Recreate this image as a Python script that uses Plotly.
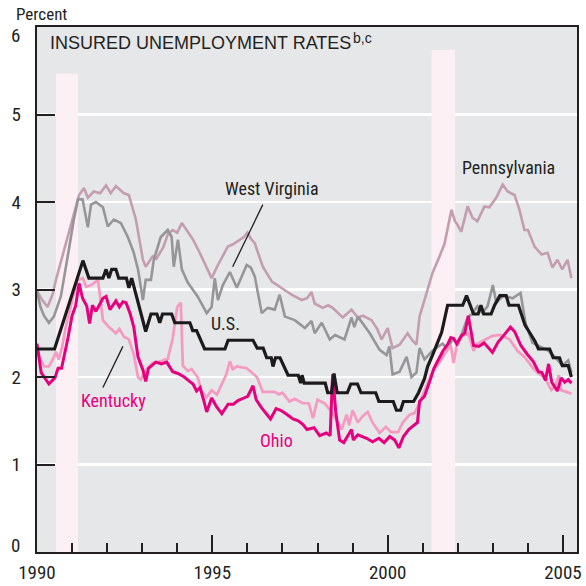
import plotly.graph_objects as go

# ---------------- data (decimal years, percent) ----------------
pa_x = [1990.0, 1990.15, 1990.3, 1990.45, 1990.54, 1990.7, 1990.9, 1991.05, 1991.2, 1991.34, 1991.45, 1991.62, 1991.8, 1991.97,
        1992.1, 1992.25, 1992.4, 1992.48, 1992.62, 1992.82, 1993.02, 1993.1, 1993.3, 1993.4, 1993.6, 1993.73, 1993.87, 1994.0,
        1994.13, 1994.3, 1994.45, 1994.64, 1994.84, 1994.98, 1995.16, 1995.3, 1995.44, 1995.6, 1995.78, 1995.9, 1996.0, 1996.1,
        1996.21, 1996.44, 1996.7, 1996.84, 1996.98, 1997.26, 1997.55, 1997.7, 1997.83, 1997.92, 1998.15, 1998.3, 1998.43, 1998.6,
        1998.72, 1998.97, 1999.15, 1999.3, 1999.54, 1999.7, 1999.83, 2000.0, 2000.14, 2000.34, 2000.57, 2000.7, 2000.82, 2000.91,
        2001.11, 2001.28, 2001.45, 2001.62, 2001.82, 2001.92, 2001.99, 2002.1, 2002.28, 2002.42, 2002.56, 2002.76, 2002.9, 2003.1,
        2003.28, 2003.42, 2003.62, 2003.76, 2003.9, 2004.0, 2004.19, 2004.39, 2004.56, 2004.7, 2004.84, 2004.98, 2005.13, 2005.24]
pa_y = [2.98, 2.88, 2.80, 2.95, 3.11, 3.35, 3.65, 3.88, 4.08, 4.16, 4.05, 4.12, 4.10, 4.19,
        4.10, 4.18, 4.12, 4.10, 4.08, 3.80, 3.34, 3.26, 3.38, 3.35, 3.48, 3.63, 3.68, 3.65,
        3.76, 3.66, 3.57, 3.42, 3.25, 3.13, 3.28, 3.38, 3.49, 3.52, 3.57, 3.60, 3.65, 3.58,
        3.53, 3.26, 3.09, 3.05, 3.02, 2.94, 2.88, 2.90, 2.97, 2.84, 2.79, 2.82, 2.79, 2.72,
        2.68, 2.77, 2.68, 2.70, 2.65, 2.55, 2.43, 2.56, 2.33, 2.37, 2.50, 2.42, 2.37, 2.69,
        2.96, 3.19, 3.35, 3.52, 3.91, 3.78, 3.74, 3.66, 3.95, 3.82, 3.78, 3.95, 3.94, 4.05,
        4.20, 4.12, 4.08, 3.91, 3.68, 3.68, 3.49, 3.40, 3.42, 3.25, 3.34, 3.23, 3.34, 3.13]

wv_x = [1990.0, 1990.1, 1990.2, 1990.34, 1990.48, 1990.68, 1990.91, 1991.05, 1991.17, 1991.3, 1991.45, 1991.54, 1991.68, 1991.88,
        1992.02, 1992.19, 1992.39, 1992.59, 1992.76, 1992.88, 1993.02, 1993.1, 1993.25, 1993.33, 1993.53, 1993.73, 1993.84, 1993.9,
        1994.02, 1994.13, 1994.3, 1994.58, 1994.84, 1994.98, 1995.07, 1995.16, 1995.3, 1995.5, 1995.7, 1995.98, 1996.1, 1996.21,
        1996.41, 1996.58, 1996.78, 1996.92, 1997.07, 1997.35, 1997.64, 1997.83, 1997.92, 1998.12, 1998.35, 1998.5, 1998.77, 1998.97,
        1999.05, 1999.15, 1999.49, 1999.77, 1999.97, 2000.05, 2000.14, 2000.34, 2000.54, 2000.68, 2000.82, 2000.91, 2001.05, 2001.28,
        2001.45, 2001.57, 2001.7, 2001.88, 2002.0, 2002.28, 2002.4, 2002.56, 2002.7, 2002.85, 2003.0, 2003.1, 2003.3, 2003.56,
        2003.79, 2003.93, 2004.13, 2004.35, 2004.59, 2004.79, 2004.98, 2005.15, 2005.24]
wv_y = [2.98, 2.80, 2.70, 2.62, 2.69, 2.92, 3.46, 3.80, 4.03, 4.03, 3.71, 3.97, 4.00, 3.94,
        3.72, 3.80, 3.76, 3.60, 3.42, 3.23, 2.88, 3.11, 3.11, 3.34, 3.60, 3.68, 3.60, 3.26,
        3.57, 3.23, 3.08, 2.92, 2.73, 2.80, 3.13, 2.88, 3.05, 3.20, 3.02, 3.28, 3.25, 3.15,
        2.73, 2.79, 2.77, 2.94, 2.69, 2.65, 2.56, 2.64, 2.50, 2.62, 2.43, 2.48, 2.43, 2.68,
        2.57, 2.69, 2.50, 2.31, 2.25, 2.35, 2.03, 2.06, 2.23, 2.00, 2.05, 2.33, 2.20, 2.30,
        2.35, 2.38, 2.32, 2.45, 2.36, 2.68, 2.72, 2.81, 2.73, 2.81, 3.05, 2.85, 2.93, 2.90,
        2.96, 2.62, 2.39, 2.35, 2.30, 2.22, 2.13, 2.19, 2.05]

us_x = [1990.0, 1990.5, 1991.31, 1991.48, 1991.88, 1991.97, 1992.05, 1992.13, 1992.25, 1992.33, 1992.55, 1992.62, 1992.7,
        1993.1, 1993.25, 1993.42, 1993.5, 1993.58, 1993.84, 1993.93, 1994.36, 1994.44, 1994.55, 1994.78, 1995.36, 1995.45,
        1996.16, 1996.28, 1996.45, 1996.55, 1996.68, 1996.73, 1996.8, 1996.93, 1997.16, 1997.45, 1997.52, 1997.56, 1997.62,
        1998.22, 1998.29, 1998.4, 1998.47, 1998.56, 1998.85, 1998.95, 1999.14, 1999.24, 1999.66, 1999.75, 2000.16, 2000.25,
        2000.37, 2000.45, 2000.74, 2000.88, 2001.05, 2001.14, 2001.28, 2001.45, 2001.54, 2001.71, 2002.14, 2002.25, 2002.35,
        2002.45, 2002.58, 2002.66, 2002.74, 2002.95, 2003.05, 2003.2, 2003.38, 2003.46, 2003.73, 2003.92, 2004.0, 2004.2,
        2004.3, 2004.62, 2004.72, 2004.9, 2004.98, 2005.15, 2005.24]
us_y = [2.32, 2.32, 3.33, 3.13, 3.13, 3.23, 3.13, 3.23, 3.23, 3.13, 3.13, 3.02, 3.13,
        2.52, 2.72, 2.72, 2.62, 2.72, 2.72, 2.62, 2.62, 2.53, 2.53, 2.32, 2.32, 2.42,
        2.42, 2.33, 2.33, 2.22, 2.22, 2.12, 2.22, 2.22, 2.02, 2.02, 1.93, 2.02, 1.93,
        1.93, 1.82, 1.82, 2.04, 1.82, 1.82, 1.92, 1.92, 1.82, 1.82, 1.72, 1.72, 1.62,
        1.62, 1.72, 1.72, 1.82, 1.98, 2.12, 2.25, 2.43, 2.51, 2.82, 2.82, 2.93, 2.82,
        2.72, 2.72, 2.82, 2.72, 2.72, 2.82, 2.93, 2.93, 2.82, 2.82, 2.59, 2.54, 2.41,
        2.32, 2.32, 2.22, 2.22, 2.13, 2.13, 2.00]

ky_x = [1990.0, 1990.1, 1990.2, 1990.34, 1990.45, 1990.54, 1990.62, 1990.72, 1990.82, 1991.03, 1991.17, 1991.31, 1991.4, 1991.55,
        1991.74, 1991.8, 1991.88, 1992.05, 1992.15, 1992.25, 1992.35, 1992.48, 1992.62, 1992.76, 1992.88, 1992.96, 1993.1, 1993.3,
        1993.53, 1993.73, 1993.87, 1994.0, 1994.1, 1994.16, 1994.3, 1994.41, 1994.58, 1994.7, 1994.84, 1994.98, 1995.13, 1995.27,
        1995.4, 1995.5, 1995.58, 1995.7, 1995.98, 1996.1, 1996.27, 1996.44, 1996.78, 1996.9, 1997.0, 1997.2, 1997.35, 1997.58,
        1997.75, 1997.87, 1998.0, 1998.2, 1998.4, 1998.54, 1998.69, 1998.83, 1998.9, 1999.0, 1999.15, 1999.28, 1999.43, 1999.57,
        1999.77, 1999.95, 2000.1, 2000.3, 2000.43, 2000.63, 2000.77, 2000.91, 2001.05, 2001.14, 2001.28, 2001.48, 2001.65, 2001.8,
        2001.88, 2001.97, 2002.12, 2002.3, 2002.45, 2002.56, 2002.75, 2002.99, 2003.2, 2003.48, 2003.7, 2003.9, 2004.15, 2004.3,
        2004.47, 2004.67, 2004.78, 2004.88, 2004.95, 2005.1, 2005.24]
ky_y = [2.32, 2.20, 2.12, 2.12, 2.20, 2.29, 2.20, 2.35, 2.57, 2.92, 3.11, 3.13, 3.03, 3.05,
        3.11, 2.92, 2.65, 2.57, 2.54, 2.50, 2.55, 2.46, 2.43, 2.26, 2.00, 1.97, 2.08, 2.16,
        2.18, 2.21, 2.44, 2.80, 2.85, 2.13, 2.07, 2.09, 2.00, 1.83, 1.77, 1.85, 1.80, 1.93,
        2.03, 2.18, 2.09, 2.12, 2.10, 2.06, 2.00, 1.83, 1.83, 1.80, 1.82, 1.72, 1.75, 1.70,
        1.70, 1.53, 1.74, 1.70, 1.60, 1.51, 1.40, 1.57, 1.45, 1.62, 1.48, 1.55, 1.60, 1.48,
        1.36, 1.43, 1.37, 1.37, 1.48, 1.57, 1.59, 1.70, 1.85, 1.93, 2.06, 2.17, 2.28, 2.36,
        2.16, 2.36, 2.47, 2.50, 2.30, 2.38, 2.42, 2.47, 2.48, 2.43, 2.30, 2.23, 2.10, 2.04,
        2.00, 1.85, 1.90, 2.02, 1.85, 1.83, 1.81]

oh_x = [1990.0, 1990.12, 1990.34, 1990.51, 1990.6, 1990.7, 1990.88, 1991.0, 1991.1, 1991.2, 1991.3, 1991.42, 1991.5, 1991.58,
        1991.68, 1991.8, 1991.88, 1991.97, 1992.08, 1992.25, 1992.35, 1992.45, 1992.54, 1992.66, 1992.76, 1992.88, 1993.02, 1993.1,
        1993.18, 1993.39, 1993.55, 1993.7, 1993.87, 1994.02, 1994.2, 1994.35, 1994.45, 1994.55, 1994.65, 1994.75, 1994.84, 1994.98,
        1995.12, 1995.27, 1995.45, 1995.6, 1995.73, 1995.9, 1996.01, 1996.16, 1996.25, 1996.4, 1996.55, 1996.66, 1996.82, 1996.95,
        1997.1, 1997.3, 1997.45, 1997.58, 1997.7, 1997.9, 1998.06, 1998.25, 1998.36, 1998.43, 1998.52, 1998.63, 1998.75, 1998.85,
        1998.97, 1999.02, 1999.15, 1999.4, 1999.57, 1999.75, 1999.9, 2000.06, 2000.2, 2000.32, 2000.45, 2000.6, 2000.75, 2000.85,
        2000.91, 2001.05, 2001.2, 2001.32, 2001.45, 2001.58, 2001.72, 2001.8, 2001.88, 2001.97, 2002.1, 2002.2, 2002.3, 2002.45,
        2002.6, 2002.75, 2002.99, 2003.15, 2003.3, 2003.5, 2003.62, 2003.8, 2003.98, 2004.15, 2004.3, 2004.4, 2004.5, 2004.59,
        2004.68, 2004.84, 2004.95, 2005.05, 2005.15, 2005.24]
oh_y = [2.38, 2.05, 1.92, 1.99, 2.10, 2.10, 2.44, 2.70, 2.81, 3.07, 2.90, 2.81, 2.61, 2.82,
        2.75, 2.85, 2.90, 2.92, 2.77, 2.87, 2.80, 2.86, 2.85, 2.72, 2.57, 2.23, 2.08, 1.95,
        2.10, 2.17, 2.15, 2.17, 2.06, 2.04, 2.00, 1.95, 1.92, 1.84, 1.88, 1.74, 1.60, 1.76,
        1.66, 1.58, 1.69, 1.69, 1.73, 1.76, 1.78, 1.90, 1.74, 1.65, 1.57, 1.52, 1.64, 1.62,
        1.58, 1.52, 1.50, 1.46, 1.40, 1.42, 1.33, 1.36, 1.33, 2.03, 1.60, 1.28, 1.25, 1.32,
        1.40, 1.28, 1.34, 1.30, 1.26, 1.30, 1.25, 1.32, 1.28, 1.19, 1.32, 1.40, 1.45, 1.48,
        1.72, 1.78, 1.95, 2.10, 2.20, 2.30, 2.38, 2.45, 2.44, 2.38, 2.47, 2.50, 2.70, 2.36,
        2.35, 2.39, 2.28, 2.40, 2.47, 2.57, 2.52, 2.36, 2.26, 2.18, 2.06, 2.05, 1.96, 2.15,
        1.94, 1.84, 1.99, 1.94, 1.97, 1.93]

recessions = [(1990.54, 1991.17, 5.47), (2001.25, 2001.92, 5.74)]
year_ticks = [1990, 1995, 2000, 2005]
pct_ticks = [0, 1, 2, 3, 4, 5, 6]
pct_inner = [1, 2, 3, 4, 5]          # labelled by the axis
pct_ends = [(0, 0.08), (6, 5.9)]    # end labels nudged inside the frame as in the original

# ---------------- styling ----------------
NARROW = "Liberation Sans Narrow, Arial Narrow, Roboto Condensed, sans-serif"
REG = "Liberation Sans, Arial, Helvetica, sans-serif"
TXT = "#231f20"

fig = go.Figure()
series = [
    (pa_x, pa_y, "#c49dae", 2.6, "Pennsylvania"),
    (wv_x, wv_y, "#969699", 2.6, "West Virginia"),
    (ky_x, ky_y, "#f59ac0", 2.7, "Kentucky"),
    (oh_x, oh_y, "#e6007e", 3.0, "Ohio"),
    (us_x, us_y, "#1c1a1b", 3.2, "U.S."),
]
for xs, ys, col, w, name in series:
    fig.add_trace(go.Scatter(x=xs, y=ys, mode="lines", name=name,
                             line=dict(color=col, width=w), hoverinfo="skip"))

for x0, x1, top in recessions:
    fig.add_shape(type="rect", xref="x", yref="y", x0=x0, x1=x1, y0=0, y1=top,
                  fillcolor="#fdf0f4", line=dict(width=0), layer="between")

# labels
labels = [
    ("West Virginia", 1996.70, 4.16, TXT),
    ("Pennsylvania", 2003.45, 4.39, TXT),
    ("U.S.", 1995.38, 2.61, TXT),
    ("Kentucky", 1992.19, 1.73, "#e6007e"),
    ("Ohio", 1996.84, 1.27, "#e6007e"),
]
for t, x, y, c in labels:
    fig.add_annotation(x=x, y=y, xref="x", yref="y", text=t, showarrow=False,
                       font=dict(family=NARROW, size=18, color=c))

# leader lines
fig.add_shape(type="line", xref="x", yref="y", x0=1996.44, y0=3.97, x1=1995.58, y1=3.26,
              line=dict(color=TXT, width=1.3), layer="above")
fig.add_shape(type="line", xref="x", yref="y", x0=1991.88, y0=1.88, x1=1992.45, y1=2.35,
              line=dict(color=TXT, width=1.3), layer="above")

# y end labels (0 and 6)
for val, ypos in pct_ends:
    fig.add_annotation(xref="paper", yref="y", x=-0.027, y=ypos, xanchor="right", yanchor="middle",
                       text=str(val), showarrow=False, font=dict(family=NARROW, size=19, color=TXT))

fig.add_annotation(xref="paper", yref="paper", x=0.02, y=0.97, xanchor="left", yanchor="middle",
                   text="INSURED UNEMPLOYMENT RATES", showarrow=False,
                   font=dict(family=REG, size=18, color=TXT))
fig.add_annotation(xref="paper", yref="paper", x=0.582, y=0.98, xanchor="left", yanchor="middle",
                   text="b,c", showarrow=False,
                   font=dict(family=REG, size=14, color=TXT))
fig.add_annotation(xref="paper", yref="paper", x=-0.043, y=1.025, xanchor="left", yanchor="middle",
                   text="Percent", showarrow=False,
                   font=dict(family=NARROW, size=17, color=TXT))

fig.update_layout(
    width=586, height=586,
    margin=dict(l=37, r=9, t=27, b=34, autoexpand=False),
    paper_bgcolor="white", plot_bgcolor="#e6e7e9",
    showlegend=False, hovermode=False,
    font=dict(family=NARROW, size=18, color=TXT),
)
fig.update_xaxes(range=[1990, 2005.4], tickvals=year_ticks, ticktext=[str(v) for v in year_ticks],
                 ticks="inside", ticklen=17, tickwidth=2, tickcolor=TXT, automargin=False,
                 showgrid=False, zeroline=False,
                 showline=True, linewidth=2.2, linecolor=TXT, mirror=True,
                 minor=dict(dtick=1, tick0=1990, ticks="inside", ticklen=9, tickwidth=2, tickcolor=TXT, showgrid=False),
                 tickfont=dict(family=NARROW, size=19, color=TXT), ticklabelstandoff=2)
fig.update_yaxes(range=[0, 6], tickvals=pct_inner, automargin=False,
                 ticks="inside", ticklen=18, tickwidth=2, tickcolor=TXT,
                 showgrid=True, gridcolor="white", gridwidth=2.5, zeroline=False,
                 showline=True, linewidth=2.2, linecolor=TXT, mirror=True,
                 tickfont=dict(family=NARROW, size=19, color=TXT), ticklabelstandoff=10)

# remove the browser's default 8px body margin so the figure fills the window exactly
fig.write_html("out.html", config={"displayModeBar": False, "staticPlot": True},
               post_script="document.body.style.margin='0';document.body.style.overflow='hidden';")
